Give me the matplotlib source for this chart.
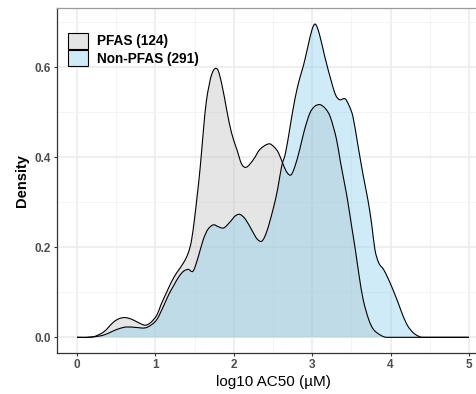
import matplotlib
matplotlib.use("Agg")
import matplotlib.pyplot as plt
from matplotlib.patches import Patch, PathPatch
from matplotlib.path import Path

plt.rcParams['font.family'] = ['Liberation Sans', 'DejaVu Sans']

# density curves (x = log10 AC50, y = density)
pfas_x = [0.0, 0.2, 0.34, 0.46, 0.53, 0.61, 0.7, 0.78, 0.87, 0.94, 1.02, 1.07, 1.14,
          1.21, 1.27, 1.36, 1.42, 1.46, 1.5, 1.53, 1.57, 1.61, 1.65, 1.72, 1.79, 1.85,
          1.91, 1.97, 2.04, 2.1, 2.16, 2.25, 2.33, 2.45, 2.52, 2.57, 2.63, 2.68, 2.73,
          2.78, 2.84, 2.9, 2.97, 3.03, 3.1, 3.17, 3.23, 3.31, 3.36, 3.42, 3.45, 3.5,
          3.55, 3.6, 3.65, 3.72, 3.78, 3.87, 3.95, 5.0]
pfas_y = [0.0, 0.001, 0.012, 0.033, 0.041, 0.044, 0.04, 0.033, 0.027, 0.033, 0.05, 0.072, 0.099,
          0.125, 0.143, 0.166, 0.188, 0.215, 0.265, 0.31, 0.375, 0.455, 0.525, 0.585, 0.596, 0.56,
          0.505, 0.455, 0.417, 0.385, 0.378, 0.395, 0.417, 0.43, 0.422, 0.41, 0.384, 0.366, 0.361,
          0.38, 0.417, 0.46, 0.498, 0.513, 0.517, 0.508, 0.49, 0.44, 0.39, 0.335, 0.306, 0.25,
          0.195, 0.135, 0.084, 0.04, 0.018, 0.005, 0.0, 0.0]

nonpfas_x = [0.0, 0.2, 0.34, 0.46, 0.55, 0.63, 0.75, 0.87, 0.95, 1.02, 1.1, 1.17, 1.23,
             1.3, 1.36, 1.42, 1.48, 1.54, 1.61, 1.67, 1.74, 1.8, 1.87, 1.95, 2.02, 2.08,
             2.15, 2.24, 2.3, 2.36, 2.42, 2.5, 2.56, 2.61, 2.66, 2.72, 2.78, 2.84, 2.89,
             2.95, 3.0, 3.04, 3.09, 3.16, 3.25, 3.3, 3.35, 3.42, 3.47, 3.52, 3.58, 3.65,
             3.71, 3.76, 3.8, 3.85, 3.91, 3.97, 4.03, 4.1, 4.16, 4.22, 4.29, 4.35, 4.4, 5.0]
nonpfas_y = [0.0, 0.001, 0.005, 0.014, 0.02, 0.023, 0.022, 0.021, 0.028, 0.04, 0.068, 0.095, 0.114,
             0.135, 0.147, 0.151, 0.147, 0.175, 0.217, 0.24, 0.25, 0.246, 0.243, 0.256, 0.27, 0.273,
             0.262, 0.235, 0.218, 0.214, 0.235, 0.284, 0.33, 0.38, 0.41, 0.47, 0.53, 0.575, 0.605,
             0.65, 0.685, 0.696, 0.675, 0.624, 0.565, 0.538, 0.528, 0.53, 0.515, 0.49, 0.43, 0.36,
             0.306, 0.25, 0.195, 0.165, 0.151, 0.13, 0.106, 0.075, 0.047, 0.025, 0.01, 0.003, 0.0, 0.0]

labels = ["PFAS (124)", "Non-PFAS (291)"]
fills = ["#bebebe", "#87ceeb"]
alpha = 0.4


def smooth_path(xs, ys, close=False):
    # cubic bezier through the read points (hermite tangents), so the outline is not jagged
    n = len(xs)
    tang = []
    for i in range(n):
        if i == 0 or i == n - 1 or ys[i] == 0:
            tang.append(0.0)
        else:
            tang.append((ys[i + 1] - ys[i - 1]) / (xs[i + 1] - xs[i - 1]))
    verts = [(xs[0], ys[0])]
    codes = [Path.MOVETO]
    for i in range(n - 1):
        h = xs[i + 1] - xs[i]
        verts += [(xs[i] + h / 3, ys[i] + tang[i] * h / 3),
                  (xs[i + 1] - h / 3, ys[i + 1] - tang[i + 1] * h / 3),
                  (xs[i + 1], ys[i + 1])]
        codes += [Path.CURVE4] * 3
    if close:
        verts += [(xs[-1], 0), (xs[0], 0), (xs[0], 0)]
        codes += [Path.LINETO, Path.LINETO, Path.CLOSEPOLY]
    return Path(verts, codes)


fig = plt.figure(figsize=(4.77, 3.94), dpi=100)
ax = fig.add_axes([57.4 / 477, 41 / 394, 431.2 / 477, 345 / 394])

for i, (xs, ys) in enumerate([(pfas_x, pfas_y), (nonpfas_x, nonpfas_y)]):
    ax.add_patch(PathPatch(smooth_path(xs, ys, close=True), facecolor=fills[i],
                           alpha=alpha, lw=0, zorder=2 + i))
for xs, ys in [(pfas_x, pfas_y), (nonpfas_x, nonpfas_y)]:
    ax.add_patch(PathPatch(smooth_path(xs, ys), fill=False, edgecolor="black", lw=0.8, zorder=4))

ax.set_xlim(-0.25, 5.25)
ax.set_ylim(-0.0348, 0.7318)
ax.set_xticks([0, 1, 2, 3, 4, 5])
ax.set_yticks([0.0, 0.2, 0.4, 0.6])
ax.set_yticklabels(["0.0", "0.2", "0.4", "0.6"])
ax.set_xticks([0.5, 1.5, 2.5, 3.5, 4.5], minor=True)
ax.set_yticks([0.1, 0.3, 0.5, 0.7], minor=True)
ax.grid(which="major", color="#ebebeb", lw=1.1, zorder=0)
ax.grid(which="minor", color="#f3f3f3", lw=0.6, zorder=0)
ax.set_axisbelow(True)
ax.tick_params(which="minor", length=0)
ax.tick_params(which="major", length=2.5, width=0.8, color="#333333", pad=2,
               labelsize=8.5, labelcolor="#4d4d4d")
for t in ax.get_xticklabels() + ax.get_yticklabels():
    t.set_fontweight("bold")

ax.spines["left"].set_color("#333333")
ax.spines["bottom"].set_color("#333333")
ax.spines["top"].set_color("#9a9a9a")
ax.spines["right"].set_color("#9a9a9a")
for s in ax.spines.values():
    s.set_linewidth(0.9)

ax.set_ylabel("Density", fontsize=10.5, fontweight="bold", labelpad=4)
ax.set_xlabel("log10 AC50 (\u00b5M)", fontsize=11, labelpad=3)

handles = [Patch(facecolor="#e5e5e5", edgecolor="black", lw=0.8),
           Patch(facecolor="#cfebf7", edgecolor="black", lw=0.8)]
ax.legend(handles, labels, loc="upper left", bbox_to_anchor=(68.3 / 477, 1 - 32.7 / 394),
          bbox_transform=fig.transFigure, frameon=False, borderpad=0, borderaxespad=0,
          handlelength=1.45, handleheight=1.45, handletextpad=0.65, labelspacing=0.08,
          prop={"size": 9.8, "weight": "bold"})

fig.savefig("out.png", dpi=100)
